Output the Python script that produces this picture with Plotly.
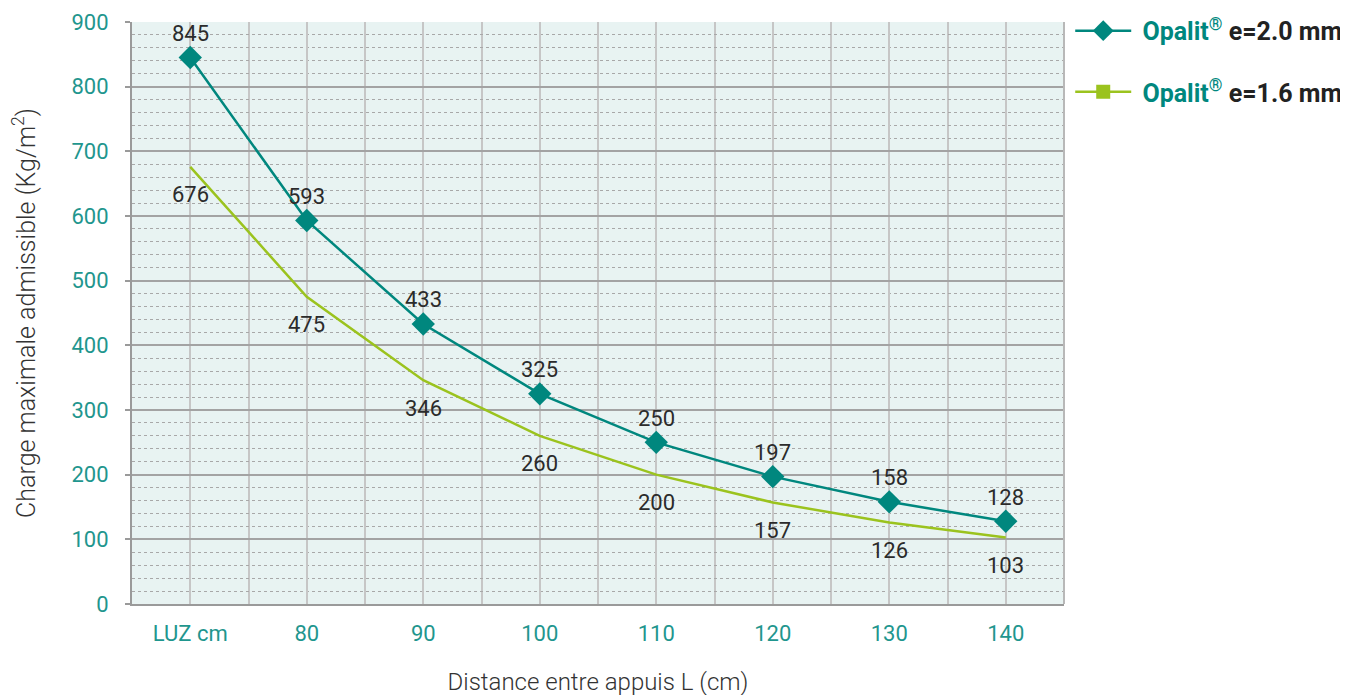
import plotly.graph_objects as go

categories = ["LUZ cm", "80", "90", "100", "110", "120", "130", "140"]
series_20 = [845, 593, 433, 325, 250, 197, 158, 128]
series_16 = [676, 475, 346, 260, 200, 157, 126, 103]

TEAL = "#00877e"
LIME = "#9bc31e"
TICK = "#1f968e"
FONT = "Roboto, 'Open Sans', sans-serif"

xs = list(range(len(categories)))

fig = go.Figure()
fig.add_trace(go.Scatter(
    x=xs, y=series_20, mode="lines+markers",
    line=dict(color=TEAL, width=2.5),
    marker=dict(symbol="diamond", size=18, color=TEAL),
    name="&nbsp;<b><span style='color:" + TEAL + "'>Opalit<sup>®</sup></span> e=2.0 mm</b>",
    legend="legend", cliponaxis=False,
))
fig.add_trace(go.Scatter(
    x=xs, y=series_16, mode="lines",
    line=dict(color=LIME, width=2.5),
    showlegend=False, cliponaxis=False,
))
fig.add_trace(go.Scatter(
    x=[None], y=[None], mode="lines+markers",
    line=dict(color=LIME, width=2.5),
    marker=dict(symbol="square", size=14, color=LIME),
    name="&nbsp;<b><span style='color:" + TEAL + "'>Opalit<sup>®</sup></span> e=1.6 mm</b>",
    legend="legend2",
))

annotations = []
for x, v in zip(xs, series_20):
    annotations.append(dict(x=x, y=v, text=str(v), showarrow=False, yshift=24,
                            font=dict(size=22, color="#2b2b2b", family=FONT)))
for x, v in zip(xs, series_16):
    annotations.append(dict(x=x, y=v, text=str(v), showarrow=False, yshift=-28,
                            font=dict(size=22, color="#2b2b2b", family=FONT)))
fig.update_layout(annotations=annotations)

leg_common = dict(xref="container", yref="container", xanchor="left", yanchor="middle",
                  font=dict(size=25, color="#222222", family=FONT),
                  itemwidth=56, bgcolor="rgba(0,0,0,0)")

fig.update_layout(
    width=1348, height=695,
    margin=dict(l=124, r=292, t=14, b=99, autoexpand=False),
    paper_bgcolor="white", plot_bgcolor="#e8f3f2",
    font=dict(family=FONT, color="#333333"),
    legend=dict(x=0.788, y=0.967, **leg_common),
    legend2=dict(x=0.788, y=0.879, **leg_common),
    xaxis=dict(
        range=[-0.5, 7.5], tickvals=xs, ticktext=categories,
        showgrid=True, gridcolor="#c6c6c6", gridwidth=2,
        minor=dict(tickvals=[i + 0.5 for i in range(-1, 8)], showgrid=True,
                   gridcolor="#c6c6c6", gridwidth=2),
        showline=True, linecolor="#9a9a9a", linewidth=2, mirror=False,
        zeroline=False, ticks="", ticklabelstandoff=9, automargin=False,
        tickfont=dict(size=22, color=TICK, family=FONT),
        title=dict(text="Distance entre appuis L (cm)", standoff=28,
                   font=dict(size=24, color="#333333", family=FONT, weight=300)),
    ),
    yaxis=dict(
        range=[0, 900], dtick=100, tick0=0,
        showgrid=True, gridcolor="#a3a3a3", gridwidth=2,
        minor=dict(dtick=20, showgrid=True, gridcolor="#a8a8a8", gridwidth=1.3,
                   griddash="3px,3px"),
        showline=True, linecolor="#9a9a9a", linewidth=2, automargin=False,
        zeroline=False, ticks="outside", ticklen=5, tickcolor="#9a9a9a", tickwidth=2,
        ticklabelstandoff=12,
        tickfont=dict(size=22, color=TICK, family=FONT),
        title=dict(text="Charge maximale admissible (Kg/m<sup>2</sup>)", standoff=36,
                   font=dict(size=25, color="#333333", family=FONT, weight=300)),
    ),
    shapes=[dict(type="line", xref="paper", yref="paper", x0=1, x1=1, y0=0, y1=1,
                 line=dict(color="#b8b8b8", width=2))],
)

fig.write_html("out.html")
